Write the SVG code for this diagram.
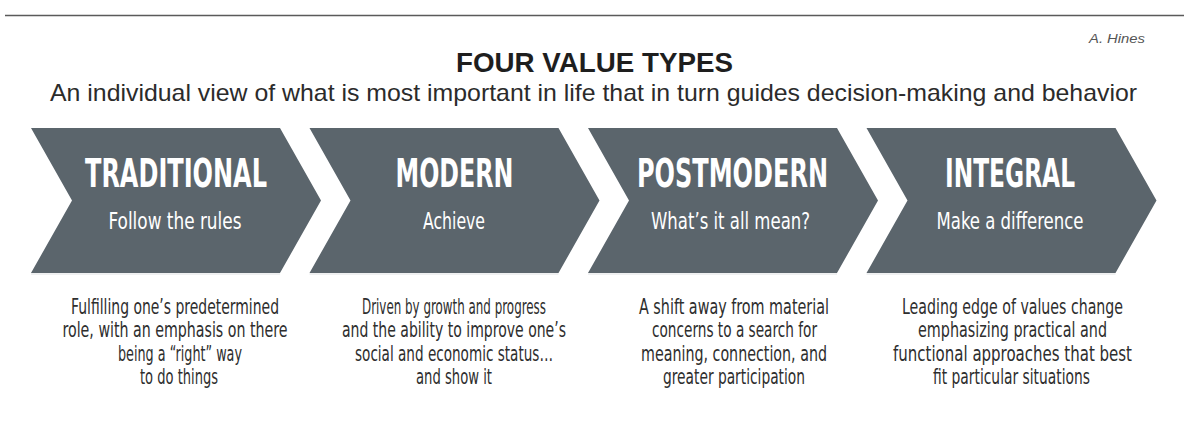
<svg xmlns="http://www.w3.org/2000/svg" width="1184" height="428" viewBox="0 0 1184 428">
<style>
.chev{fill:#5b656c}
.shadow{stroke:#dfe2e4;stroke-width:1.2}
.h{font-family:"Liberation Sans Narrow","DejaVu Sans Condensed","Liberation Sans",sans-serif;font-stretch:condensed;font-weight:bold;font-size:39px;fill:#ffffff;text-anchor:middle}
.s{font-family:"Liberation Sans Narrow","DejaVu Sans Condensed","Liberation Sans",sans-serif;font-stretch:condensed;font-size:23px;fill:#ffffff;text-anchor:middle}
.d{font-family:"Liberation Sans Narrow","DejaVu Sans Condensed","Liberation Sans",sans-serif;font-stretch:condensed;font-size:21px;fill:#2e2e2e;text-anchor:middle}
.title{font-family:"Liberation Sans",Arial,sans-serif;font-weight:bold;font-size:28px;fill:#1e1e1e;text-anchor:middle}
.sub{font-family:"Liberation Sans",Arial,sans-serif;font-size:24px;fill:#2b2b2b;text-anchor:middle}
.auth{font-family:"Liberation Sans",Arial,sans-serif;font-style:italic;font-size:12px;fill:#555555;text-anchor:end}
</style>
<g id="header">
<line x1="5" y1="15.5" x2="1184" y2="15.5" stroke="#5a5a5a" stroke-width="1.6"/>
<text class="auth" x="1145" y="43" textLength="56" lengthAdjust="spacingAndGlyphs">A. Hines</text>
<text class="title" x="594.5" y="71.7" textLength="277" lengthAdjust="spacingAndGlyphs">FOUR VALUE TYPES</text>
<text class="sub" x="593.5" y="100.7" textLength="1087" lengthAdjust="spacingAndGlyphs">An individual view of what is most important in life that in turn guides decision-making and behavior</text>
</g>
<g id="connectors"></g>
<g id="traditional">
<line class="shadow" x1="31" y1="274" x2="280" y2="274"/>
<polygon class="chev" points="31,128 280,128 321,200.5 280,273 31,273 72,200.5"/>
<text class="h" x="176" y="186.7" textLength="182" lengthAdjust="spacingAndGlyphs">TRADITIONAL</text>
<text class="s" x="175" y="229" textLength="133" lengthAdjust="spacingAndGlyphs">Follow the rules</text>
<text class="d" x="175" y="313.5" textLength="208" lengthAdjust="spacingAndGlyphs">Fulfilling one’s predetermined</text>
<text class="d" x="175" y="337" textLength="225" lengthAdjust="spacingAndGlyphs">role, with an emphasis on there</text>
<text class="d" x="180" y="360.5" textLength="124" lengthAdjust="spacingAndGlyphs">being a “right” way</text>
<text class="d" x="179" y="384" textLength="78" lengthAdjust="spacingAndGlyphs">to do things</text>
</g>
<g id="modern">
<line class="shadow" x1="309.5" y1="274" x2="558.5" y2="274"/>
<polygon class="chev" points="309.5,128 558.5,128 599.5,200.5 558.5,273 309.5,273 350.5,200.5"/>
<text class="h" x="454.5" y="186.7" textLength="118" lengthAdjust="spacingAndGlyphs">MODERN</text>
<text class="s" x="454" y="229" textLength="62" lengthAdjust="spacingAndGlyphs">Achieve</text>
<text class="d" x="454" y="313.5" textLength="184" lengthAdjust="spacingAndGlyphs">Driven by growth and progress</text>
<text class="d" x="454" y="337" textLength="224" lengthAdjust="spacingAndGlyphs">and the ability to improve one’s</text>
<text class="d" x="454" y="360.5" textLength="198" lengthAdjust="spacingAndGlyphs">social and economic status…</text>
<text class="d" x="454" y="384" textLength="76" lengthAdjust="spacingAndGlyphs">and show it</text>
</g>
<g id="postmodern">
<line class="shadow" x1="588" y1="274" x2="837" y2="274"/>
<polygon class="chev" points="588,128 837,128 878,200.5 837,273 588,273 629,200.5"/>
<text class="h" x="732.5" y="186.7" textLength="191" lengthAdjust="spacingAndGlyphs">POSTMODERN</text>
<text class="s" x="730.5" y="229" textLength="159" lengthAdjust="spacingAndGlyphs">What’s it all mean?</text>
<text class="d" x="734" y="313.5" textLength="190" lengthAdjust="spacingAndGlyphs">A shift away from material</text>
<text class="d" x="734.5" y="337" textLength="165" lengthAdjust="spacingAndGlyphs">concerns to a search for</text>
<text class="d" x="734" y="360.5" textLength="186" lengthAdjust="spacingAndGlyphs">meaning, connection, and</text>
<text class="d" x="734" y="384" textLength="142" lengthAdjust="spacingAndGlyphs">greater participation</text>
</g>
<g id="integral">
<line class="shadow" x1="866.5" y1="274" x2="1115.5" y2="274"/>
<polygon class="chev" points="866.5,128 1115.5,128 1156.5,200.5 1115.5,273 866.5,273 907.5,200.5"/>
<text class="h" x="1010" y="186.7" textLength="130" lengthAdjust="spacingAndGlyphs">INTEGRAL</text>
<text class="s" x="1010" y="229" textLength="147" lengthAdjust="spacingAndGlyphs">Make a difference</text>
<text class="d" x="1012.5" y="313.5" textLength="221" lengthAdjust="spacingAndGlyphs">Leading edge of values change</text>
<text class="d" x="1012.5" y="337" textLength="189" lengthAdjust="spacingAndGlyphs">emphasizing practical and</text>
<text class="d" x="1012.5" y="360.5" textLength="239" lengthAdjust="spacingAndGlyphs">functional approaches that best</text>
<text class="d" x="1011.5" y="384" textLength="157" lengthAdjust="spacingAndGlyphs">fit particular situations</text>
</g>
</svg>
